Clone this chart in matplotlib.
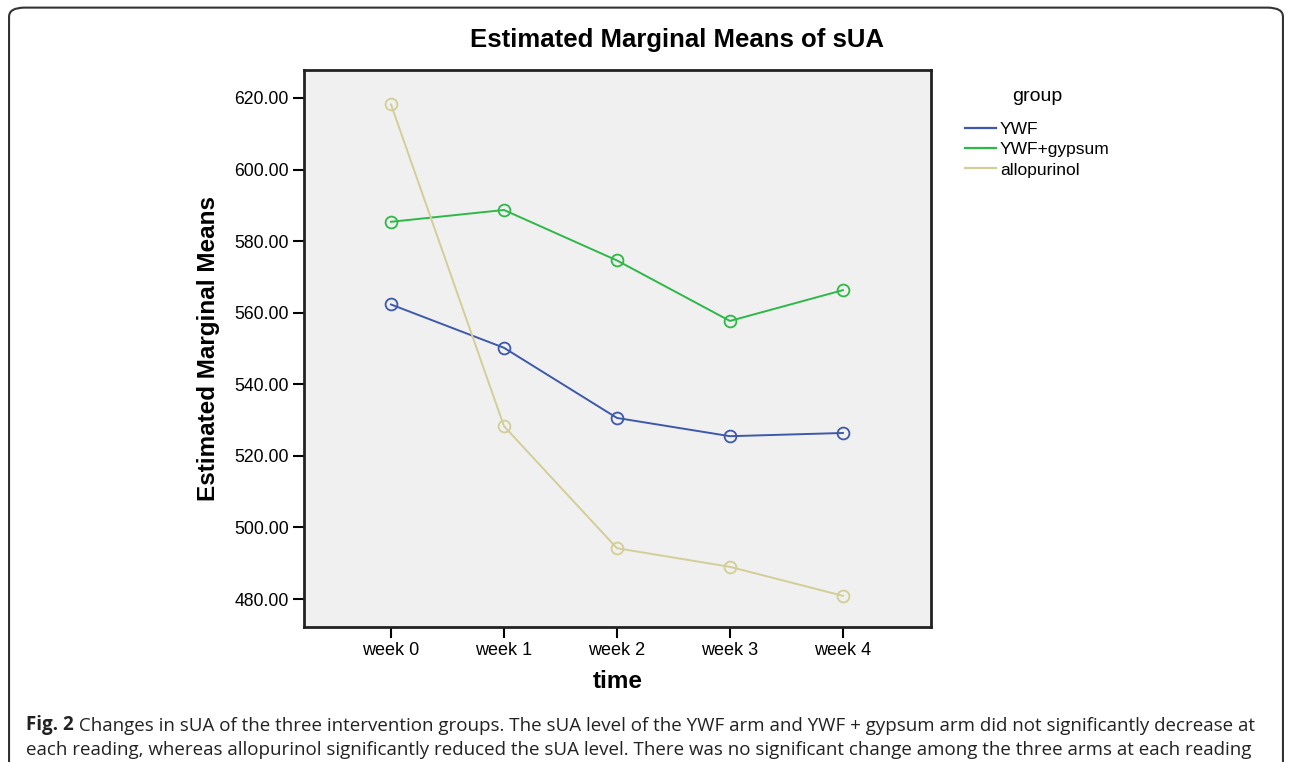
"""
estimated marginal means of sUA by group over time
"""
import matplotlib.pyplot as plt
from matplotlib.patches import FancyBboxPatch

plt.rcParams['font.family'] = ['Liberation Sans', 'DejaVu Sans']

weeks = ['week 0', 'week 1', 'week 2', 'week 3', 'week 4']
groups = ['YWF', 'YWF+gypsum', 'allopurinol']
ywf = [562.3, 550.2, 530.6, 525.5, 526.4]
ywf_gypsum = [585.4, 588.7, 574.6, 557.7, 566.3]
allopurinol = [618.2, 528.3, 494.2, 489.0, 480.9]
y_ticks = [480, 500, 520, 540, 560, 580, 600, 620]
colors = ['#3E58AC', '#2EB848', '#D3CE97']

fig = plt.figure(figsize=(12.92, 7.62), dpi=100)
ax = fig.add_axes([0.2353, 0.1772, 0.4853, 0.7309])
ax.set_facecolor('#F0F0F0')

x = list(range(len(weeks)))
for vals, name, c in zip([ywf, ywf_gypsum, allopurinol], groups, colors):
    ax.plot(x, vals, '-o', color=c, lw=1.4, ms=8.5, mfc='none', mew=1.3, label=name)

ax.set_xlim(-0.77, 4.78)
ax.set_ylim(472.2, 627.8)
ax.set_xticks(x)
ax.set_xticklabels(weeks, fontsize=13)
ax.set_yticks(y_ticks)
ax.set_yticklabels(['%.2f' % v for v in y_ticks], fontsize=12.7)
ax.tick_params(length=8, width=1.5, pad=3)
for s in ax.spines.values():
    s.set_linewidth(2)
    s.set_color('#222222')

fig.text(0.524, 0.947, 'Estimated Marginal Means of sUA', fontsize=18.5, fontweight='bold',
         ha='center', va='center')
ax.set_ylabel('Estimated Marginal Means', fontsize=17.5, fontweight='bold', labelpad=10)
ax.set_xlabel('time', fontsize=17.5, fontweight='bold', labelpad=8)

handles = [plt.Line2D([], [], color=c, lw=1.6) for c in colors]
leg = fig.legend(handles, groups, title='group', loc='upper left',
                 bbox_to_anchor=(0.735, 0.905), frameon=False, fontsize=12.5,
                 title_fontsize=14, handlelength=1.75, handletextpad=0.25,
                 labelspacing=0.3)
leg._legend_box.sep = 12

# rounded frame around the whole figure
frame = FancyBboxPatch((0.007, -0.05), 0.986, 1.04, boxstyle='round,pad=0,rounding_size=0.012',
                       transform=fig.transFigure, fill=False, ec='#333333', lw=1.5)
fig.patches.append(frame)

cap_size = 13.5
t1 = fig.text(0.02, 0.042, 'Fig. 2', fontsize=cap_size, fontweight='bold', family='Open Sans',
              color='#222222')
plt.annotate(' Changes in sUA of the three intervention groups. The sUA level of the YWF arm and '
             'YWF + gypsum arm did not significantly decrease at',
             xy=(1, 0), xycoords=t1, va='bottom', fontsize=cap_size, family='Open Sans',
             color='#222222')
fig.text(0.02, 0.009, 'each reading, whereas allopurinol significantly reduced the sUA level. '
         'There was no significant change among the three arms at each reading',
         fontsize=cap_size, family='Open Sans', color='#222222')

fig.savefig('out.png', dpi=100)
